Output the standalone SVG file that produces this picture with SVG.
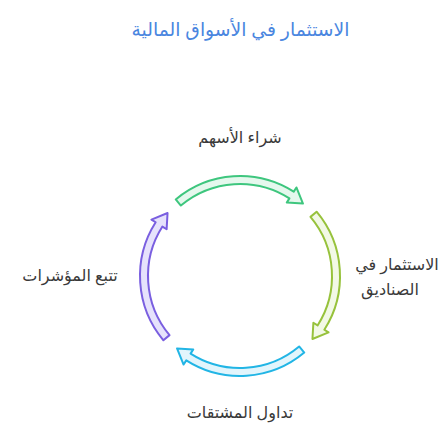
<svg xmlns="http://www.w3.org/2000/svg" width="444" height="444" viewBox="0 0 444 444">
<style>
.title{font-family:"Noto Sans","DejaVu Sans",sans-serif;font-size:18.8px;fill:#4a86e0;text-anchor:middle}
.lbl{font-family:"Noto Sans","DejaVu Sans",sans-serif;font-size:16px;fill:#3a3a3a;text-anchor:middle}
.arr{stroke-width:2;stroke-linejoin:round}
.g{fill:#e5f8ed;stroke:#3ec67e}
.y{fill:#f2f9e6;stroke:#97c23c}
.c{fill:#e2f5fc;stroke:#22b5e5}
.p{fill:#e6e2fc;stroke:#7a5fe0}
</style>
<defs>
<path id="arc" d="M 175.72 199.40 A 100 100 0 0 1 293.73 191.66 L 296.42 187.44 L 302.98 203.55 L 286.75 202.62 L 289.43 198.41 A 92 92 0 0 0 180.86 205.53 Z"/>
</defs>
<rect width="444" height="444" fill="#ffffff"/>
<text class="title" x="240.5" y="36" direction="rtl">الاستثمار في الأسواق المالية</text>
<g id="connectors">
<use href="#arc" class="arr g"/>
<use href="#arc" class="arr y" transform="rotate(90 240 276)"/>
<use href="#arc" class="arr c" transform="rotate(180 240 276)"/>
<use href="#arc" class="arr p" transform="rotate(270 240 276)"/>
</g>
<g id="node-buy"><text class="lbl" x="240" y="143" direction="rtl">شراء الأسهم</text></g>
<g id="node-funds"><text class="lbl" x="397" y="270" direction="rtl">الاستثمار في</text><text class="lbl" x="390" y="295" direction="rtl">الصناديق</text></g>
<g id="node-derivatives"><text class="lbl" x="240" y="418" direction="rtl">تداول المشتقات</text></g>
<g id="node-indicators"><text class="lbl" x="70" y="281" direction="rtl">تتبع المؤشرات</text></g>
</svg>
